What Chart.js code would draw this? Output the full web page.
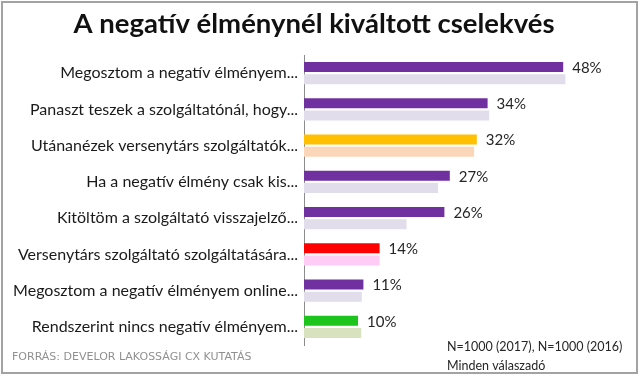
<!DOCTYPE html>
<html>
<head>
<meta charset="utf-8">
<script src="https://cdn.jsdelivr.net/npm/chart.js@4.4.0/dist/chart.umd.min.js"></script>
<style>
  html, body { margin: 0; padding: 0; background: #fff; }
  #wrap { width: 640px; height: 377px; position: relative; }
</style>
</head>
<body>
<div id="wrap"><canvas id="myChart" width="640" height="377"></canvas></div>
<script>
// categories and values (percent)
const categories = [
    'Megosztom a negatív élményem...',
    'Panaszt teszek a szolgáltatónál, hogy...',
    'Utánanézek versenytárs szolgáltatók...',
    'Ha a negatív élmény csak kis...',
    'Kitöltöm a szolgáltató visszajelző...',
    'Versenytárs szolgáltató szolgáltatására...',
    'Megosztom a negatív élményem online...',
    'Rendszerint nincs negatív élményem...'
];
const values2017 = [48, 34, 32, 27, 26, 14, 11, 10];
const values2016 = [48.4, 34.3, 31.5, 24.8, 19, 14, 10.7, 10.6];
const colors2017 = ['#7030A0', '#7030A0', '#FFC000', '#7030A0', '#7030A0', '#FF0000', '#7030A0', '#1EC41E'];
const colors2016 = ['#E2DDEA', '#E2DDEA', '#FCD6B8', '#E2DDEA', '#E2DDEA', '#FFCCF6', '#E2DDEA', '#D8E2BE'];

const titleText = 'A negatív élménynél kiváltott cselekvés';
const sourceText = 'FORRÁS: DEVELOR LAKOSSÁGI CX KUTATÁS';
const noteLines = ['N=1000 (2017), N=1000 (2016)', 'Minden válaszadó'];

// value labels next to the 2017 bars, plus footer texts and frame
const extras = {
    id: 'extras',
    afterDatasetsDraw(chart) {
        const ctx = chart.ctx;
        const meta = chart.getDatasetMeta(0);
        ctx.save();
        ctx.font = '15px Lato';
        ctx.fillStyle = '#262626';
        ctx.textBaseline = 'middle';
        ctx.textAlign = 'left';
        meta.data.forEach(function(bar, i) {
            ctx.fillText(values2017[i] + '%', bar.x + 9, bar.y + 1);
        });
        ctx.restore();
    },
    afterDraw(chart) {
        const ctx = chart.ctx;
        ctx.save();
        ctx.textBaseline = 'middle';
        ctx.font = '11px "DejaVu Sans"';
        ctx.fillStyle = '#909090';
        ctx.fillText(sourceText, 12, 357);
        ctx.font = '12.5px Lato';
        ctx.fillStyle = '#262626';
        ctx.fillText(noteLines[0], 447, 347);
        ctx.fillText(noteLines[1], 447, 366);
        ctx.strokeStyle = '#a3a3a3';
        ctx.lineWidth = 2;
        ctx.strokeRect(2, 2, 635, 371);
        ctx.restore();
    }
};

const ctx = document.getElementById('myChart').getContext('2d');
const chart = new Chart(ctx, {
    type: 'bar',
    data: {
        labels: categories,
        datasets: [
            { label: '2017', data: values2017, backgroundColor: colors2017 },
            { label: '2016', data: values2016, backgroundColor: colors2016 }
        ]
    },
    options: {
        indexAxis: 'y',
        responsive: false,
        animation: false,
        categoryPercentage: 0.67,
        barPercentage: 0.83,
        layout: { padding: { left: 0, right: 12, top: 0, bottom: 32 } },
        plugins: {
            legend: { display: false },
            tooltip: { enabled: false },
            title: {
                display: true,
                text: titleText,
                color: '#111',
                font: { family: 'Lato', size: 27.5, weight: 'bold' },
                padding: { top: 8, bottom: 14 }
            }
        },
        scales: {
            x: { display: false, min: 0, max: 60 },
            y: {
                grid: { display: false, drawTicks: false },
                border: { display: true, color: '#8c8c8c', width: 1 },
                ticks: { color: '#1a1a1a', font: { family: 'Lato', size: 16 }, padding: 6 },
                afterFit(scale) { scale.width = 304; }
            }
        }
    },
    plugins: [extras]
});
</script>
</body>
</html>
